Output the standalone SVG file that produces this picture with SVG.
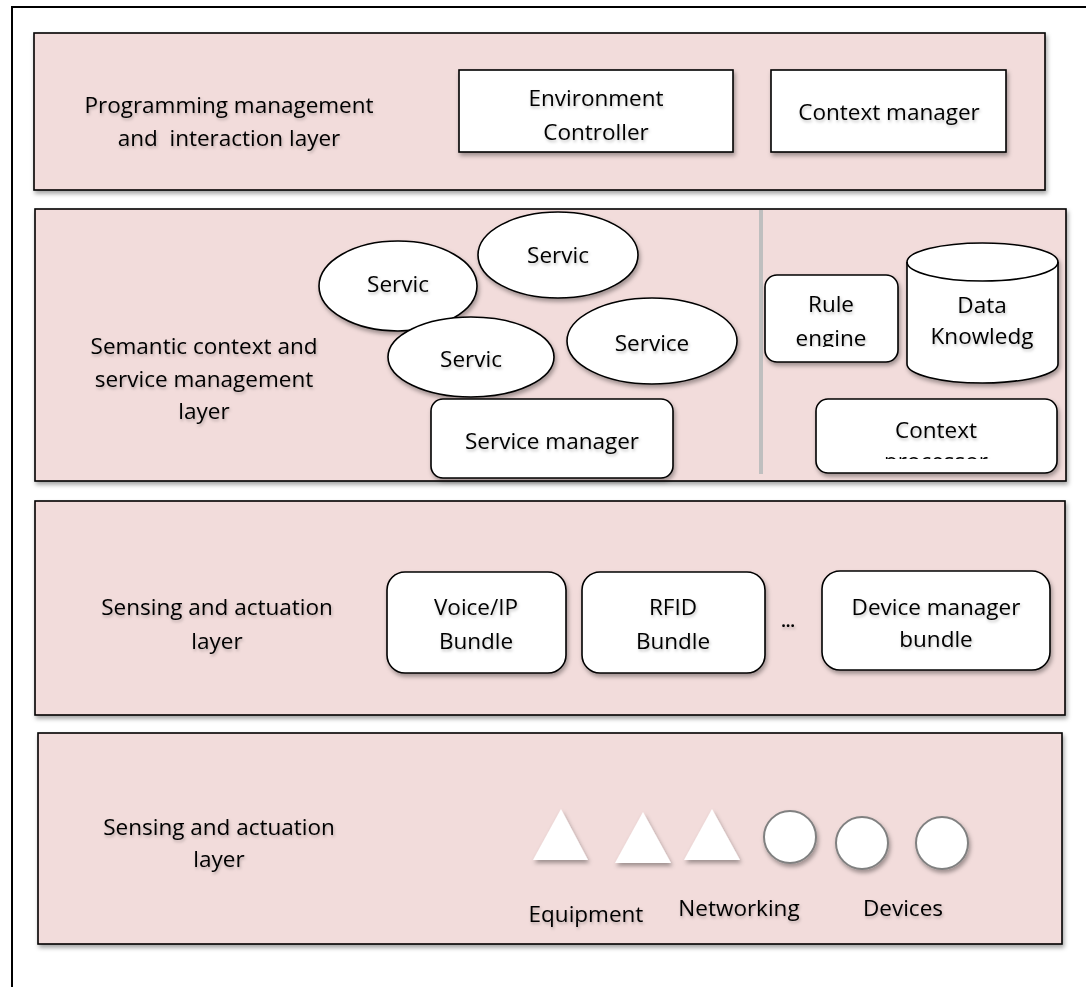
<svg xmlns="http://www.w3.org/2000/svg" width="1086" height="987" viewBox="0 0 1086 987">
<style>
.layer{fill:#F2DCDB;stroke:#000;stroke-width:1.6;filter:url(#sh)}
.box{fill:#fff;stroke:#000;stroke-width:1.6;filter:url(#sh)}
.t{font-family:"Open Sans","Liberation Sans",sans-serif;font-size:22.5px;fill:#000;text-anchor:middle;filter:url(#tsh)}
.tri{fill:#fff;filter:url(#sh)}
.dot{fill:#fff;stroke:#808080;stroke-width:2;filter:url(#sh)}
</style>
<defs>
<filter id="sh" x="-10%" y="-10%" width="130%" height="140%"><feDropShadow dx="1.5" dy="3" stdDeviation="2" flood-color="#000" flood-opacity="0.35"/></filter>
<filter id="tsh" x="-10%" y="-30%" width="130%" height="180%"><feDropShadow dx="1" dy="2" stdDeviation="1.5" flood-color="#000" flood-opacity="0.25"/></filter>
<clipPath id="clipRule"><rect x="765" y="275" width="133" height="72"/></clipPath>
<clipPath id="clipCtx"><rect x="816" y="399" width="241" height="60"/></clipPath>
</defs>
<rect width="1086" height="987" fill="#fff"/>
<rect x="12" y="7" width="1100" height="1000" fill="none" stroke="#000" stroke-width="2"/>

<g id="layer1">
<rect class="layer" x="34" y="33" width="1011" height="157"/>
<text class="t" x="229" y="113">Programming management</text>
<text class="t" x="229" y="146" xml:space="preserve">and  interaction layer</text>
</g>
<g id="env-controller">
<rect class="box" x="459" y="70" width="274" height="82"/>
<text class="t" x="596" y="106">Environment</text>
<text class="t" x="596" y="140">Controller</text>
</g>
<g id="context-manager">
<rect class="box" x="771" y="70" width="235" height="82"/>
<text class="t" x="889" y="120">Context manager</text>
</g>

<g id="layer2">
<rect class="layer" x="35" y="209" width="1031" height="272"/>
<text class="t" x="204" y="354">Semantic context and</text>
<text class="t" x="204" y="387">service management</text>
<text class="t" x="204" y="419">layer</text>
<line x1="761" y1="210" x2="761" y2="474" stroke="#BFBFBF" stroke-width="4"/>
</g>
<g id="service1">
<ellipse class="box" cx="398" cy="286" rx="79" ry="45"/>
<text class="t" x="398" y="292">Servic</text>
</g>
<g id="service2">
<ellipse class="box" cx="558" cy="255" rx="80" ry="43"/>
<text class="t" x="558" y="263">Servic</text>
</g>
<g id="service3">
<ellipse class="box" cx="471" cy="357" rx="83" ry="40"/>
<text class="t" x="471" y="367">Servic</text>
</g>
<g id="service4">
<ellipse class="box" cx="652" cy="341" rx="85" ry="43"/>
<text class="t" x="652" y="351">Service</text>
</g>
<g id="service-manager">
<rect class="box" x="431" y="399" width="242" height="79" rx="12"/>
<text class="t" x="552" y="449">Service manager</text>
</g>
<g id="rule-engine">
<rect class="box" x="765" y="275" width="133" height="87" rx="12"/>
<g clip-path="url(#clipRule)">
<text class="t" x="831" y="312">Rule</text>
<text class="t" x="831" y="346">engine</text>
</g>
</g>
<g id="data-knowledge">
<path class="box" d="M907,262 L907,364 A75.5,19 0 0 0 1058,364 L1058,262 A75.5,19 0 0 0 907,262 Z"/>
<path d="M907,262 A75.5,19 0 0 0 1058,262" fill="none" stroke="#000" stroke-width="1.6"/>
<text class="t" x="982" y="313">Data</text>
<text class="t" x="982" y="344">Knowledg</text>
</g>
<g id="context-processor">
<rect class="box" x="816" y="399" width="241" height="74" rx="12"/>
<text class="t" x="936" y="438">Context</text>
<g clip-path="url(#clipCtx)">
<text class="t" x="936" y="469">processor</text>
</g>
</g>

<g id="layer3">
<rect class="layer" x="35" y="501" width="1030" height="214"/>
<text class="t" x="217" y="615">Sensing and actuation</text>
<text class="t" x="217" y="649">layer</text>
<text class="t" x="788" y="627" style="font-size:16px;font-weight:bold">…</text>
</g>
<g id="voip-bundle">
<rect class="box" x="387" y="572" width="179" height="101" rx="18"/>
<text class="t" x="476" y="615">Voice/IP</text>
<text class="t" x="476" y="649">Bundle</text>
</g>
<g id="rfid-bundle">
<rect class="box" x="582" y="572" width="183" height="101" rx="18"/>
<text class="t" x="673" y="615">RFID</text>
<text class="t" x="673" y="649">Bundle</text>
</g>
<g id="device-manager-bundle">
<rect class="box" x="822" y="571" width="228" height="99" rx="18"/>
<text class="t" x="936" y="615">Device manager</text>
<text class="t" x="936" y="647">bundle</text>
</g>

<g id="layer4">
<rect class="layer" x="38" y="733" width="1024" height="211"/>
<text class="t" x="219" y="835">Sensing and actuation</text>
<text class="t" x="219" y="867">layer</text>
</g>
<g id="equipment">
<polygon class="tri" points="561,809 588,860 533,860"/>
<polygon class="tri" points="643,812 671,863 615,863"/>
<text class="t" x="586" y="922">Equipment</text>
</g>
<g id="networking">
<polygon class="tri" points="712,809 740,860 684,860"/>
<circle class="dot" cx="790" cy="837" r="26"/>
<text class="t" x="739" y="916">Networking</text>
</g>
<g id="devices">
<circle class="dot" cx="862" cy="843" r="26"/>
<circle class="dot" cx="942" cy="843" r="26"/>
<text class="t" x="903" y="916">Devices</text>
</g>
<g id="connectors"></g>
</svg>
